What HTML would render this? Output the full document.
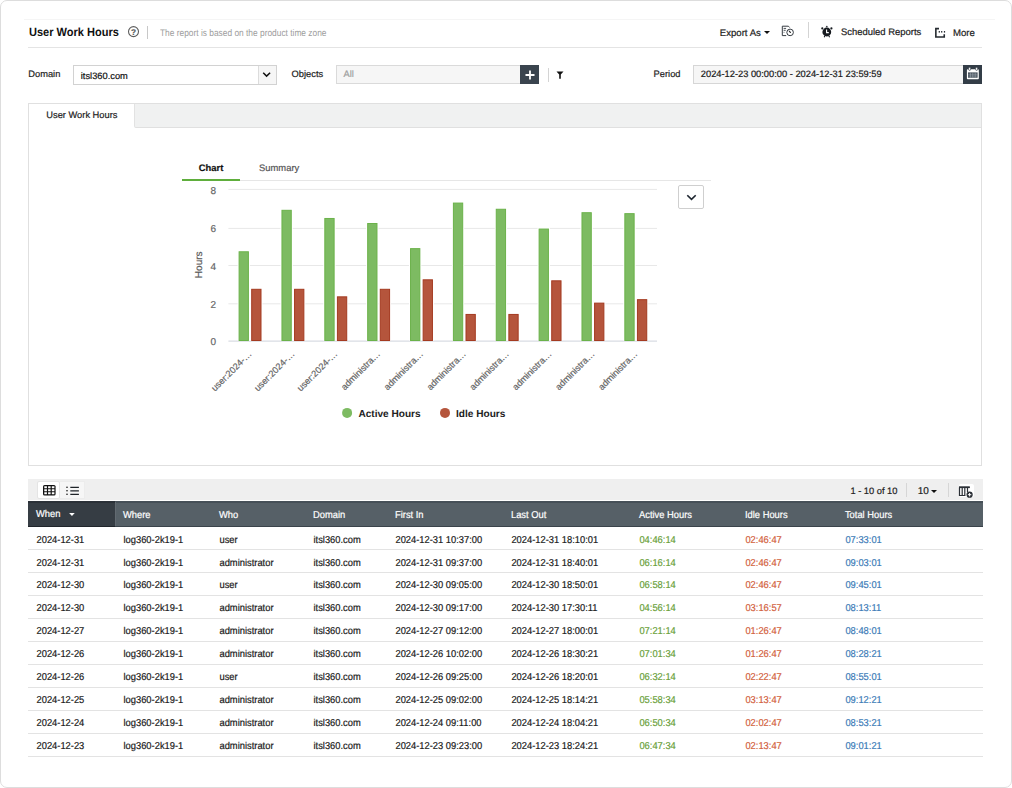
<!DOCTYPE html>
<html><head><meta charset="utf-8"><title>User Work Hours</title>
<style>
*{box-sizing:border-box;margin:0;padding:0}
html,body{width:1012px;height:788px;overflow:hidden;background:#fff}
body{position:relative;font-family:"Liberation Sans",Arial,sans-serif;font-size:9.3px;color:#222;text-rendering:geometricPrecision}
svg text{font-family:"Liberation Sans",Arial,sans-serif}
.abs{position:absolute}
.frame{position:absolute;left:0;top:0;width:1012px;height:788px;border:1px solid #dddddd;border-radius:7px}
.t{position:absolute;white-space:nowrap;line-height:1;-webkit-text-stroke:0.2px currentColor}
.box{position:absolute;border:1px solid #d2d2d2}
.grey{background:#f6f6f6}
.dk{position:absolute;background:#36404a}
table{position:absolute;left:28px;top:501px;width:1021.39px;border-collapse:separate;border-spacing:0;table-layout:fixed;transform:scaleX(0.935);transform-origin:0 0;font-size:10px}
th{color:#fff;font-weight:400;text-align:left;height:26.2px;padding:4px 0 0 8.6px;white-space:nowrap;line-height:1;-webkit-text-stroke:0.2px #fff}
th.when{padding-top:2px;padding-bottom:0}
td{height:22.93px;padding:4px 0 0 9.09px;white-space:nowrap;color:#1a1a1a;line-height:1;-webkit-text-stroke:0.2px currentColor}
td.c6{color:#6a9f3a}
td.c7{color:#d2603c}
td.c8{color:#3b7bb7}
</style></head>
<body>
<div class="frame"></div>
<div class="abs" style="left:24px;top:19px;width:971px;height:1px;background:#f5f5f5"></div>

<!-- header -->
<div class="t" style="left:28.6px;top:26.6px;font-size:11.9px;font-weight:700;color:#111;-webkit-text-stroke:0;transform:scaleX(0.928);transform-origin:0 0">User Work Hours</div>
<svg class="abs" style="left:127px;top:25px" width="14" height="14" viewBox="0 0 14 14"><circle cx="6.5" cy="6.6" r="5" fill="none" stroke="#5e5e5e" stroke-width="1.1"/><text x="6.5" y="9.7" text-anchor="middle" font-size="8.3" font-weight="700" fill="#555" stroke="#555" stroke-width="0.15">?</text></svg>
<div class="abs" style="left:147px;top:26px;width:1px;height:13px;background:#c8c8c8"></div>
<div class="t" style="left:160px;top:28.6px;font-size:9.6px;color:#9d9d9d;-webkit-text-stroke:0;transform:scaleX(0.872);transform-origin:0 0">The report is based on the product time zone</div>

<div class="t" style="left:719.8px;top:28.6px;font-size:9.6px;color:#222">Export As</div>
<div class="abs" style="left:764px;top:31px;width:0;height:0;border-left:3px solid transparent;border-right:3px solid transparent;border-top:3px solid #111"></div>
<svg class="abs" style="left:781px;top:25px" width="14" height="12" viewBox="0 0 14 12">
<path d="M5.2 10.6H1.3V1.2H7.4L8.6 2.5" fill="none" stroke="#353b42" stroke-width="1"/>
<path d="M2.6 3.4H5.1M2.6 5.3H4.7M2.6 7.3H3.4" stroke="#353b42" stroke-width="0.9"/>
<circle cx="9.1" cy="7.4" r="3.3" fill="#fff" stroke="#353b42" stroke-width="1"/>
<path d="M9.3 7.8L7.9 5.8L9.6 7.1Z" fill="#111" stroke="#111" stroke-width="0.7"/>
</svg>
<div class="abs" style="left:807.5px;top:22px;width:1px;height:16px;background:#d4d4d4"></div>
<svg class="abs" style="left:820px;top:25px" width="14" height="14" viewBox="0 0 14 14">
<circle cx="6.8" cy="7" r="4.4" fill="#161a1f"/>
<circle cx="2.3" cy="3.4" r="1.1" fill="#161a1f"/>
<circle cx="11.4" cy="3.4" r="1.1" fill="#161a1f"/>
<circle cx="6.8" cy="1.6" r="0.9" fill="#3c4148"/>
<path d="M5 10.6L4.2 12.2M8.7 10.6L9.6 12.2" stroke="#161a1f" stroke-width="1.1"/>
<path d="M6.6 4.5V7.6H8.8" fill="none" stroke="#fff" stroke-width="1.1"/>
</svg>
<div class="t" style="left:841px;top:28.0px;font-size:9.45px;color:#222">Scheduled Reports</div>
<svg class="abs" style="left:934px;top:27px" width="12" height="11" viewBox="0 0 12 11">
<path d="M5 1.6H1.85V10H10.25V7.2" fill="none" stroke="#262b31" stroke-width="1.6"/>
<rect x="4.7" y="4" width="1.2" height="1.6" fill="#262b31"/><rect x="7.1" y="4" width="1.2" height="1.6" fill="#262b31"/><rect x="9.9" y="4" width="1.2" height="1.6" fill="#262b31"/>
</svg>
<div class="t" style="left:953px;top:28.9px;font-size:9.6px;color:#222">More</div>
<div class="abs" style="left:28px;top:47px;width:954px;height:1px;background:#e4e4e4"></div>

<!-- filter row -->
<div class="t" style="left:28.3px;top:70px">Domain</div>
<div class="box" style="left:73px;top:65px;width:204px;height:20px;background:#fff"></div>
<div class="t" style="left:80.8px;top:71.6px;color:#111">itsl360.com</div>
<div class="abs grey" style="left:258px;top:66px;width:18px;height:18px;border-left:1px solid #dcdcdc"></div>
<svg class="abs" style="left:262px;top:71px" width="10" height="8" viewBox="0 0 10 8"><path d="M1.2 1.8L4.6 5.1L8.1 1.8" fill="none" stroke="#111" stroke-width="1.5"/></svg>

<div class="t" style="left:291.6px;top:70px">Objects</div>
<div class="box grey" style="left:335.5px;top:65px;width:186px;height:19px;border-color:#dadada"></div>
<div class="t" style="left:343.5px;top:70px;color:#a0a0a0">All</div>
<div class="dk" style="left:520.4px;top:65px;width:18.6px;height:18.5px;background:#3a444e"></div>
<svg class="abs" style="left:524px;top:68.5px" width="12" height="12" viewBox="0 0 12 12"><path d="M6 1.5V10.5M1.5 6H10.5" stroke="#fff" stroke-width="1.8"/></svg>
<div class="abs" style="left:547.5px;top:67.5px;width:1px;height:14px;background:#d4d4d4"></div>
<svg class="abs" style="left:555px;top:69.6px" width="10" height="10" viewBox="0 0 10 10"><path d="M1.5 1.5H8.5L5.8 4.6V8.8H4.2V4.6Z" fill="#111"/></svg>

<div class="t" style="left:653.6px;top:70px">Period</div>
<div class="box grey" style="left:693px;top:65px;width:271px;height:18.5px;border-color:#d6d6d6"></div>
<div class="t" style="left:700.8px;top:70px;color:#1a1a1a">2024-12-23 00:00:00 - 2024-12-31 23:59:59</div>
<div class="dk" style="left:963px;top:65px;width:18.5px;height:18.5px;background:#333d47"></div>
<svg class="abs" style="left:965.5px;top:67px" width="14" height="14" viewBox="0 0 14 14">
<rect x="0.9" y="2.2" width="11.9" height="10.1" rx="0.8" fill="#fff"/>
<rect x="2.6" y="0.2" width="2" height="3.2" rx="1" fill="#fff" stroke="#333d47" stroke-width="0.7"/>
<rect x="9.6" y="0.2" width="2" height="3.2" rx="1" fill="#fff" stroke="#333d47" stroke-width="0.7"/>
<rect x="2" y="5.4" width="9.6" height="5.3" fill="#3f4a55"/>
<path d="M2.2 7.2H11.4M2.2 9H11.4M4.4 5.5V10.6M6.8 5.5V10.6M9.2 5.5V10.6" stroke="#aab3bb" stroke-width="0.55"/>
</svg>

<!-- panel -->
<div class="abs" style="left:28px;top:103px;width:954px;height:363px;border:1px solid #e0e0e0"></div>
<div class="abs" style="left:134.2px;top:104px;width:846.8px;height:24px;background:#f0f1f1;border-bottom:1px solid #e0e0e0;border-left:1px solid #e2e2e2;border-bottom-left-radius:2px"></div>
<div class="t" style="left:46.3px;top:111.2px;color:#222">User Work Hours</div>

<!-- chart tabs -->
<div class="t" style="left:198.8px;top:162.7px;font-weight:700;color:#111;font-size:9.4px">Chart</div>
<div class="t" style="left:259.1px;top:162.7px;color:#555;font-size:9.4px">Summary</div>
<div class="abs" style="left:182px;top:179px;width:58px;height:2px;background:#5fae3c"></div>
<div class="abs" style="left:240px;top:180px;width:471px;height:1px;background:#e6e6e6"></div>
<div class="abs" style="left:678px;top:185px;width:26px;height:24px;border:1px solid #cfcfcf;border-radius:2px;background:#fff"></div>
<svg class="abs" style="left:685.8px;top:194.4px" width="12" height="8" viewBox="0 0 12 8"><path d="M1.3 1.2L5.5 5.4L9.7 1.2" fill="none" stroke="#1e2630" stroke-width="1.6"/></svg>

<svg class="abs" style="left:0;top:0" width="1012" height="788" viewBox="0 0 1012 788">
<line x1="228.4" x2="657.0" y1="303.8" y2="303.8" stroke="#e8e8e8" stroke-width="1"/>
<line x1="228.4" x2="657.0" y1="265.5" y2="265.5" stroke="#e8e8e8" stroke-width="1"/>
<line x1="228.4" x2="657.0" y1="228.4" y2="228.4" stroke="#e8e8e8" stroke-width="1"/>
<line x1="228.4" x2="657.0" y1="189.4" y2="189.4" stroke="#e8e8e8" stroke-width="1"/>
<line x1="228.4" x2="657.0" y1="341.2" y2="341.2" stroke="#d9dce3" stroke-width="1.2"/>
<text x="216" y="345.0" text-anchor="end" font-size="10" fill="#666" stroke="#666" stroke-width="0.2">0</text>
<text x="216" y="307.8" text-anchor="end" font-size="10" fill="#666" stroke="#666" stroke-width="0.2">2</text>
<text x="216" y="269.6" text-anchor="end" font-size="10" fill="#666" stroke="#666" stroke-width="0.2">4</text>
<text x="216" y="232.1" text-anchor="end" font-size="10" fill="#666" stroke="#666" stroke-width="0.2">6</text>
<text x="216" y="194.0" text-anchor="end" font-size="10" fill="#666" stroke="#666" stroke-width="0.2">8</text>
<text transform="translate(202.2 264.8) rotate(-90)" text-anchor="middle" font-size="10" fill="#5a5a5a" stroke="#5a5a5a" stroke-width="0.2">Hours</text>
<rect x="237.60" y="250.28" width="12.30" height="90.22" fill="#fff"/>
<rect x="239.10" y="251.78" width="9.30" height="88.72" fill="#7dbb62" stroke="#6bb24a" stroke-width="1"/>
<rect x="250.20" y="287.80" width="12.30" height="52.70" fill="#fff"/>
<rect x="251.70" y="289.30" width="9.30" height="51.20" fill="#b5553c" stroke="#a43a20" stroke-width="1"/>
<rect x="280.46" y="208.81" width="12.30" height="131.69" fill="#fff"/>
<rect x="281.96" y="210.31" width="9.30" height="130.19" fill="#7dbb62" stroke="#6bb24a" stroke-width="1"/>
<rect x="293.06" y="287.80" width="12.30" height="52.70" fill="#fff"/>
<rect x="294.56" y="289.30" width="9.30" height="51.20" fill="#b5553c" stroke="#a43a20" stroke-width="1"/>
<rect x="323.32" y="216.97" width="12.30" height="123.53" fill="#fff"/>
<rect x="324.82" y="218.47" width="9.30" height="122.03" fill="#7dbb62" stroke="#6bb24a" stroke-width="1"/>
<rect x="335.92" y="295.34" width="12.30" height="45.16" fill="#fff"/>
<rect x="337.42" y="296.84" width="9.30" height="43.66" fill="#b5553c" stroke="#a43a20" stroke-width="1"/>
<rect x="366.18" y="222.00" width="12.30" height="118.50" fill="#fff"/>
<rect x="367.68" y="223.50" width="9.30" height="117.00" fill="#7dbb62" stroke="#6bb24a" stroke-width="1"/>
<rect x="378.78" y="287.80" width="12.30" height="52.70" fill="#fff"/>
<rect x="380.28" y="289.30" width="9.30" height="51.20" fill="#b5553c" stroke="#a43a20" stroke-width="1"/>
<rect x="409.04" y="247.13" width="12.30" height="93.37" fill="#fff"/>
<rect x="410.54" y="248.63" width="9.30" height="91.87" fill="#7dbb62" stroke="#6bb24a" stroke-width="1"/>
<rect x="421.64" y="278.32" width="12.30" height="62.18" fill="#fff"/>
<rect x="423.14" y="279.82" width="9.30" height="60.68" fill="#b5553c" stroke="#a43a20" stroke-width="1"/>
<rect x="451.90" y="201.58" width="12.30" height="138.92" fill="#fff"/>
<rect x="453.40" y="203.08" width="9.30" height="137.42" fill="#7dbb62" stroke="#6bb24a" stroke-width="1"/>
<rect x="464.50" y="312.94" width="12.30" height="27.56" fill="#fff"/>
<rect x="466.00" y="314.44" width="9.30" height="26.06" fill="#b5553c" stroke="#a43a20" stroke-width="1"/>
<rect x="494.76" y="207.76" width="12.30" height="132.74" fill="#fff"/>
<rect x="496.26" y="209.26" width="9.30" height="131.24" fill="#7dbb62" stroke="#6bb24a" stroke-width="1"/>
<rect x="507.36" y="312.94" width="12.30" height="27.56" fill="#fff"/>
<rect x="508.86" y="314.44" width="9.30" height="26.06" fill="#b5553c" stroke="#a43a20" stroke-width="1"/>
<rect x="537.62" y="227.55" width="12.30" height="112.95" fill="#fff"/>
<rect x="539.12" y="229.05" width="9.30" height="111.45" fill="#7dbb62" stroke="#6bb24a" stroke-width="1"/>
<rect x="550.22" y="279.32" width="12.30" height="61.18" fill="#fff"/>
<rect x="551.72" y="280.82" width="9.30" height="59.68" fill="#b5553c" stroke="#a43a20" stroke-width="1"/>
<rect x="580.48" y="211.21" width="12.30" height="129.29" fill="#fff"/>
<rect x="581.98" y="212.71" width="9.30" height="127.79" fill="#7dbb62" stroke="#6bb24a" stroke-width="1"/>
<rect x="593.08" y="301.63" width="12.30" height="38.87" fill="#fff"/>
<rect x="594.58" y="303.13" width="9.30" height="37.37" fill="#b5553c" stroke="#a43a20" stroke-width="1"/>
<rect x="623.34" y="212.16" width="12.30" height="128.34" fill="#fff"/>
<rect x="624.84" y="213.66" width="9.30" height="126.84" fill="#7dbb62" stroke="#6bb24a" stroke-width="1"/>
<rect x="635.94" y="298.17" width="12.30" height="42.33" fill="#fff"/>
<rect x="637.44" y="299.67" width="9.30" height="40.83" fill="#b5553c" stroke="#a43a20" stroke-width="1"/>
<text transform="translate(252.2 354.6) rotate(-45)" text-anchor="end" font-size="9.1" fill="#666" stroke="#666" stroke-width="0.2">user:2024-…</text>
<text transform="translate(295.1 354.6) rotate(-45)" text-anchor="end" font-size="9.1" fill="#666" stroke="#666" stroke-width="0.2">user:2024-…</text>
<text transform="translate(338.0 354.6) rotate(-45)" text-anchor="end" font-size="9.1" fill="#666" stroke="#666" stroke-width="0.2">user:2024-…</text>
<text transform="translate(380.8 354.6) rotate(-45)" text-anchor="end" font-size="9.1" fill="#666" stroke="#666" stroke-width="0.2">administra…</text>
<text transform="translate(423.7 354.6) rotate(-45)" text-anchor="end" font-size="9.1" fill="#666" stroke="#666" stroke-width="0.2">administra…</text>
<text transform="translate(466.5 354.6) rotate(-45)" text-anchor="end" font-size="9.1" fill="#666" stroke="#666" stroke-width="0.2">administra…</text>
<text transform="translate(509.4 354.6) rotate(-45)" text-anchor="end" font-size="9.1" fill="#666" stroke="#666" stroke-width="0.2">administra…</text>
<text transform="translate(552.2 354.6) rotate(-45)" text-anchor="end" font-size="9.1" fill="#666" stroke="#666" stroke-width="0.2">administra…</text>
<text transform="translate(595.1 354.6) rotate(-45)" text-anchor="end" font-size="9.1" fill="#666" stroke="#666" stroke-width="0.2">administra…</text>
<text transform="translate(638.0 354.6) rotate(-45)" text-anchor="end" font-size="9.1" fill="#666" stroke="#666" stroke-width="0.2">administra…</text>
<circle cx="347.1" cy="412.9" r="5" fill="#7dbb62"/>
<text x="358.4" y="416.9" font-size="10.1" font-weight="700" fill="#222">Active Hours</text>
<circle cx="445" cy="412.9" r="5" fill="#b5553c"/>
<text x="456" y="416.9" font-size="10.1" font-weight="700" fill="#222">Idle Hours</text>
</svg>

<!-- table toolbar -->
<div class="abs" style="left:28px;top:479px;width:955px;height:21px;background:#efefef"></div>
<div class="abs" style="left:36.8px;top:480.7px;width:23.5px;height:18.4px;background:#fff;border:1px solid #e4e4e4;border-radius:2px"></div>
<div class="abs" style="left:60.3px;top:480.7px;width:24.8px;height:18.4px;background:#f6f6f6;border:1px solid #ececec;border-left:0"></div>
<svg class="abs" style="left:42px;top:484px" width="15" height="12" viewBox="0 0 15 12">
<rect x="1" y="0.9" width="12.6" height="10.6" rx="1.6" fill="#111"/>
<path d="M2.3 2.2h2.6v2h-2.6zM6.1 2.2h2.5v2h-2.5zM9.8 2.2h2.6v2h-2.6zM2.3 5.2h2.6v2h-2.6zM6.1 5.2h2.5v2h-2.5zM9.8 5.2h2.6v2h-2.6zM2.3 8.2h2.6v2h-2.6zM6.1 8.2h2.5v2h-2.5zM9.8 8.2h2.6v2h-2.6z" fill="#fff"/>
</svg>
<svg class="abs" style="left:65px;top:484px" width="15" height="12" viewBox="0 0 15 12">
<circle cx="2" cy="3.3" r="0.8" fill="#111"/><circle cx="2" cy="6.8" r="0.8" fill="#111"/><circle cx="2" cy="10.3" r="0.8" fill="#111"/>
<path d="M5.3 3.3h8.6M5.3 6.8h8.6M5.3 10.3h8.6" stroke="#1e2328" stroke-width="1.3"/>
</svg>
<div class="t" style="left:850.4px;top:487.4px">1 - 10 of 10</div>
<div class="abs" style="left:906px;top:483px;width:1px;height:14px;background:#d6d6d6"></div>
<div class="t" style="left:917.8px;top:487px;font-size:10px">10</div>
<div class="abs" style="left:931.3px;top:490px;width:0;height:0;border-left:3.4px solid transparent;border-right:3.4px solid transparent;border-top:3.8px solid #111"></div>
<div class="abs" style="left:948px;top:483px;width:1px;height:14px;background:#d6d6d6"></div>
<div class="abs" style="left:958.5px;top:484px;width:15px;height:13px;background:#fff;border-radius:2px"></div>
<svg class="abs" style="left:958px;top:485.8px" width="16" height="12" viewBox="0 0 16 12">
<path d="M1 1.5H11.5M1.5 1.5V9.5H7.5M1.5 9.5V1.5M4.2 2V9.5M6.8 2V9.5M9.5 2V6" fill="none" stroke="#2a2f35" stroke-width="1.2"/>
<path d="M1 1.2H11.8" stroke="#2a2f35" stroke-width="1.8"/>
<circle cx="11.6" cy="8.7" r="3.1" fill="#2a2f35"/>
<path d="M11.6 7V10.4M9.9 8.7H13.3" stroke="#fff" stroke-width="1"/>
</svg>

<!-- table -->
<div class="abs" style="left:28px;top:501px;width:955px;height:26px;background:#566067;border-top:2px solid #465058;border-bottom:1px solid #3a434b"></div>
<div class="abs" style="left:28px;top:501px;width:87px;height:26px;background:#363d44;border-top:2px solid #2b3138;border-bottom:1px solid #20252b"></div>
<div class="abs" style="left:115px;top:502px;width:1px;height:24px;background:#626a71"></div>
<div class="abs" style="left:28px;top:549.30px;width:955px;height:1px;background:#e3e3e3"></div>
<div class="abs" style="left:28px;top:572.23px;width:955px;height:1px;background:#e3e3e3"></div>
<div class="abs" style="left:28px;top:595.16px;width:955px;height:1px;background:#e3e3e3"></div>
<div class="abs" style="left:28px;top:618.09px;width:955px;height:1px;background:#e3e3e3"></div>
<div class="abs" style="left:28px;top:641.02px;width:955px;height:1px;background:#e3e3e3"></div>
<div class="abs" style="left:28px;top:663.95px;width:955px;height:1px;background:#e3e3e3"></div>
<div class="abs" style="left:28px;top:686.88px;width:955px;height:1px;background:#e3e3e3"></div>
<div class="abs" style="left:28px;top:709.81px;width:955px;height:1px;background:#e3e3e3"></div>
<div class="abs" style="left:28px;top:732.74px;width:955px;height:1px;background:#e3e3e3"></div>
<div class="abs" style="left:28px;top:755.67px;width:955px;height:1px;background:#e3e3e3"></div>
<table>
<colgroup><col style="width:93.05px"><col style="width:102.67px"><col style="width:100.53px"><col style="width:87.70px"><col style="width:124.06px"><col style="width:136.90px"><col style="width:113.37px"><col style="width:106.95px"><col style="width:156.15px"></colgroup>
<thead><tr><th class="when">When <span style="display:inline-block;margin-left:6.5px;vertical-align:1px;width:0;height:0;border-left:3.6px solid transparent;border-right:3.6px solid transparent;border-top:3.8px solid #fff"></span></th><th>Where</th><th>Who</th><th>Domain</th><th>First In</th><th>Last Out</th><th>Active Hours</th><th>Idle Hours</th><th>Total Hours</th></tr></thead>
<tbody>
<tr><td>2024-12-31</td><td>log360-2k19-1</td><td>user</td><td>itsl360.com</td><td>2024-12-31 10:37:00</td><td>2024-12-31 18:10:01</td><td class="c6">04:46:14</td><td class="c7">02:46:47</td><td class="c8">07:33:01</td></tr>
<tr><td>2024-12-31</td><td>log360-2k19-1</td><td>administrator</td><td>itsl360.com</td><td>2024-12-31 09:37:00</td><td>2024-12-31 18:40:01</td><td class="c6">06:16:14</td><td class="c7">02:46:47</td><td class="c8">09:03:01</td></tr>
<tr><td>2024-12-30</td><td>log360-2k19-1</td><td>user</td><td>itsl360.com</td><td>2024-12-30 09:05:00</td><td>2024-12-30 18:50:01</td><td class="c6">06:58:14</td><td class="c7">02:46:47</td><td class="c8">09:45:01</td></tr>
<tr><td>2024-12-30</td><td>log360-2k19-1</td><td>administrator</td><td>itsl360.com</td><td>2024-12-30 09:17:00</td><td>2024-12-30 17:30:11</td><td class="c6">04:56:14</td><td class="c7">03:16:57</td><td class="c8">08:13:11</td></tr>
<tr><td>2024-12-27</td><td>log360-2k19-1</td><td>administrator</td><td>itsl360.com</td><td>2024-12-27 09:12:00</td><td>2024-12-27 18:00:01</td><td class="c6">07:21:14</td><td class="c7">01:26:47</td><td class="c8">08:48:01</td></tr>
<tr><td>2024-12-26</td><td>log360-2k19-1</td><td>administrator</td><td>itsl360.com</td><td>2024-12-26 10:02:00</td><td>2024-12-26 18:30:21</td><td class="c6">07:01:34</td><td class="c7">01:26:47</td><td class="c8">08:28:21</td></tr>
<tr><td>2024-12-26</td><td>log360-2k19-1</td><td>user</td><td>itsl360.com</td><td>2024-12-26 09:25:00</td><td>2024-12-26 18:20:01</td><td class="c6">06:32:14</td><td class="c7">02:22:47</td><td class="c8">08:55:01</td></tr>
<tr><td>2024-12-25</td><td>log360-2k19-1</td><td>administrator</td><td>itsl360.com</td><td>2024-12-25 09:02:00</td><td>2024-12-25 18:14:21</td><td class="c6">05:58:34</td><td class="c7">03:13:47</td><td class="c8">09:12:21</td></tr>
<tr><td>2024-12-24</td><td>log360-2k19-1</td><td>administrator</td><td>itsl360.com</td><td>2024-12-24 09:11:00</td><td>2024-12-24 18:04:21</td><td class="c6">06:50:34</td><td class="c7">02:02:47</td><td class="c8">08:53:21</td></tr>
<tr><td>2024-12-23</td><td>log360-2k19-1</td><td>administrator</td><td>itsl360.com</td><td>2024-12-23 09:23:00</td><td>2024-12-23 18:24:21</td><td class="c6">06:47:34</td><td class="c7">02:13:47</td><td class="c8">09:01:21</td></tr>
</tbody>
</table>
</body></html>
